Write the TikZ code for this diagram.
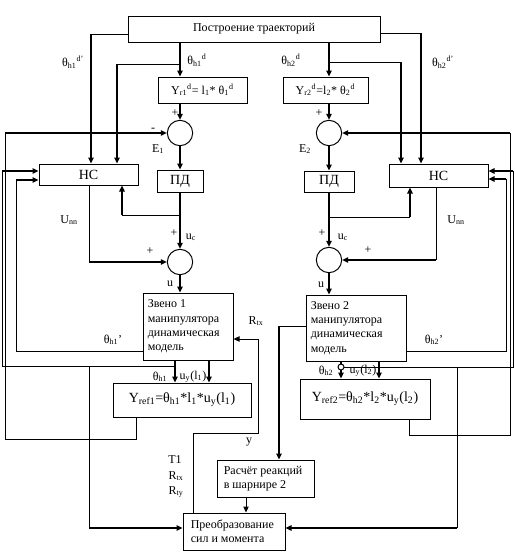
\documentclass[tikz,border=0pt]{standalone}
\usepackage{fontspec}
\setmainfont{Liberation Serif}
\usetikzlibrary{arrows.meta,calc}
\newcommand{\sbx}[1]{\textsubscript{#1}}
\newcommand{\spx}[1]{\textsuperscript{#1}}
\begin{document}
\begin{tikzpicture}[x=0.75pt,y=-0.75pt,
  box/.style={draw,line width=0.75pt,inner sep=0pt,font=\fontsize{9}{10.7}\selectfont},
  bigtext/.style={font=\fontsize{10.5}{12}\selectfont},
  sumc/.style={draw,circle,line width=0.75pt,minimum size=19pt,inner sep=0pt},
  lbl/.style={inner sep=0pt,font=\fontsize{9}{10.7}\selectfont},
  wire/.style={line width=0.75pt},
  bus/.style={line width=1.7pt},
  arr/.style={-{Triangle[length=4.5pt,width=4pt]}}
]
\useasboundingbox (0,0) rectangle (514,553);

% ---------- blocks ----------
\node[box,minimum width=189pt,minimum height=19.5pt] (top) at (254,29) {Построение траекторий};
\node[box,minimum width=66.75pt,minimum height=19.5pt] (yr1) at (202.5,90) {Y\sbx{r1}\spx{d}= l\sbx{1}* θ\sbx{1}\spx{d}};
\node[box,minimum width=63.75pt,minimum height=19.5pt] (yr2) at (325.5,90) {Y\sbx{r2}\spx{d}=l\sbx{2}* θ\sbx{2}\spx{d}};
\node[sumc] (c1) at (180,133) {};
\node[sumc] (c3) at (329,133) {};
\node[box,bigtext,minimum width=74.25pt,minimum height=15.75pt] (nc1) at (88.5,174.5) {НС};
\node[box,bigtext,minimum width=74.25pt,minimum height=17.25pt] (nc2) at (438.5,175.5) {НС};
\node[box,bigtext,minimum width=34.5pt,minimum height=16.5pt] (pd1) at (180,181) {ПД};
\node[box,bigtext,minimum width=37.5pt,minimum height=15.75pt] (pd2) at (329,181.5) {ПД};
\node[sumc] (c2) at (180,262) {};
\node[sumc] (c4) at (329,260) {};
\node[box,minimum width=67.5pt,minimum height=50.25pt] (z1) at (188,326.5) {};
\node[lbl,align=left,anchor=west] (z1t) at ($(z1.west)+(5,0)$) {Звено 1\\манипулятора\\динамическая\\модель};
\node[box,minimum width=75pt,minimum height=49.5pt] (z2) at (356,328) {};
\node[lbl,align=left,anchor=west] (z2t) at ($(z2.west)+(5,0)$) {Звено 2\\манипулятора\\динамическая\\модель};
\node[box,bigtext,minimum width=103.5pt,minimum height=25.5pt] (yref1) at (182,400) {Y\sbx{ref1}=θ\sbx{h1}*l\sbx{1}*u\sbx{y}(l\sbx{1})};
\node[box,bigtext,minimum width=97.5pt,minimum height=30pt] (yref2) at (365,399) {Y\sbx{ref2}=θ\sbx{h2}*l\sbx{2}*u\sbx{y}(l\sbx{2})};
\node[box,minimum width=72.75pt,minimum height=27.75pt] (ras) at (265.5,478.5) {};
\node[lbl,align=left,anchor=west] (rast) at ($(ras.west)+(7,0)$) {Расчёт реакций\\в шарнире 2};
\node[box,minimum width=76.5pt,minimum height=27.75pt] (pr) at (234,531.5) {};
\node[lbl,align=left,anchor=west] (prt) at ($(pr.west)+(8,0)$) {Преобразование\\сил и момента};

% ---------- bend points ----------
\coordinate (a1) at (91,34);
\coordinate (b1) at (180,64);
\coordinate (b1l) at (117,64);
\coordinate (uc1) at (180,215);
\coordinate (uc1l) at (122,215);
\coordinate (un1) at (89,262);
\coordinate (t1) at (175,366);
\coordinate (uy1) at (209,366);
\coordinate (L2a) at (2,366);
\coordinate (L2b) at (2,171);
\coordinate (L3a) at (16,351);
\coordinate (L3b) at (16,180);
\coordinate (f1a) at (136,439);
\coordinate (f1b) at (5,439);
\coordinate (f1c) at (5,133);
\coordinate (p1a) at (89,366);
\coordinate (p1b) at (89,528);
\coordinate (r1) at (193,433);
\coordinate (r2) at (258,433);
\coordinate (r3) at (258,339);
\coordinate (q1) at (279,326);
\coordinate (q2) at (246,505);
\coordinate (a2) at (421,33);
\coordinate (b2) at (329,62);
\coordinate (b2r) at (401,62);
\coordinate (uc2) at (329,217);
\coordinate (uc2r) at (410,217);
\coordinate (un2) at (436,260);
\coordinate (t2) at (341,367);
\coordinate (uy2) at (379,367);
\coordinate (R2a) at (513,367);
\coordinate (R2b) at (513,171);
\coordinate (R3a) at (506,351);
\coordinate (R3b) at (506,179);
\coordinate (f2a) at (409,435);
\coordinate (f2b) at (510,435);
\coordinate (f2c) at (510,133);
\coordinate (p2a) at (457,367);
\coordinate (p2b) at (457,528);

% ---------- left half ----------
\draw[wire] (top.west |- a1) -- (a1);
\draw[bus,arr] (a1) -- (a1 |- nc1.north);
\draw[bus,arr] (top.south -| c1) -- (c1 |- yr1.north);
\draw[wire] (b1) -- (b1l);
\draw[bus,arr] (b1l) -- (b1l |- nc1.north);
\draw[bus,arr] (c1 |- yr1.south) -- (c1.north);
\draw[bus,arr] (c1.south) -- (pd1.north);
\draw[bus,arr] (pd1.south) -- (c2.north);
\draw[wire] (uc1) -- (uc1l);
\draw[bus,arr] (uc1l) -- (uc1l |- nc1.south);
\draw[wire] (nc1.south -| un1) -- (un1);
\draw[bus,arr] (un1) -- (c2.west);
\draw[bus,arr] (c2.south) -- (c2.south |- z1.north);
\draw[bus,arr] (z1.south -| t1) -- (t1 |- yref1.north);
\draw[bus,arr] (z1.south -| uy1) -- (uy1 |- yref1.north);
\draw[wire] (t1) -- (L2a) -- (L2b);
\draw[bus,arr] (L2b) -- (L2b -| nc1.west);
\draw[wire] (z1.west |- L3a) -- (L3a) -- (L3b);
\draw[bus,arr] (L3b) -- (L3b -| nc1.west);
\draw[wire] (yref1.south -| f1a) -- (f1a) -- (f1b) -- (f1c);
\draw[bus,arr] (f1c) -- (c1.west);
\draw[wire] (p1a) -- (p1b);
\draw[bus,arr] (p1b) -- (p1b -| pr.west);
\draw[wire] (pr.north -| r1) -- (r1) -- (r2) -- (r3);
\draw[wire,arr] (r3) -- (r3 -| z1.east);
\draw[wire] (z2.west |- q1) -- (q1);
\draw[bus,arr] (q1) -- (q1 |- ras.north);
\draw[wire,arr] (ras.south -| q2) -- (q2 |- pr.north);

% ---------- right half ----------
\draw[wire] (top.east |- a2) -- (a2);
\draw[bus,arr] (a2) -- (a2 |- nc2.north);
\draw[bus,arr] (top.south -| c3) -- (c3 |- yr2.north);
\draw[wire] (b2) -- (b2r);
\draw[bus,arr] (b2r) -- (b2r |- nc2.north);
\draw[bus,arr] (c3 |- yr2.south) -- (c3.north);
\draw[bus,arr] (c3.south) -- (pd2.north);
\draw[bus,arr] (pd2.south) -- (c4.north);
\draw[wire] (uc2) -- (uc2r);
\draw[bus,arr] (uc2r) -- (uc2r |- nc2.south);
\draw[wire] (nc2.south -| un2) -- (un2);
\draw[bus,arr] (un2) -- (c4.east);
\draw[bus,arr] (c4.south) -- (c4.south |- z2.north);
\draw[bus,arr] (z2.south -| t2) -- (t2 |- yref2.north);
\draw[bus,arr] (z2.south -| uy2) -- (uy2 |- yref2.north);
\draw[wire] (t2) -- (R2a) -- (R2b);
\draw[bus,arr] (R2b) -- (R2b -| nc2.east);
\draw[wire] (z2.east |- R3a) -- (R3a) -- (R3b);
\draw[bus,arr] (R3b) -- (R3b -| nc2.east);
\draw[wire] (yref2.south -| f2a) -- (f2a) -- (f2b) -- (f2c);
\draw[bus,arr] (f2c) -- (c3.east);
\draw[wire] (p2a) -- (p2b);
\draw[bus,arr] (p2b) -- (p2b -| pr.east);
\node[draw,circle,line width=0.75pt,inner sep=0pt,minimum size=4.5pt,fill=white] (jn) at (t2) {};

% ---------- labels ----------
\node[lbl] (l1) at (73,62) {θ\sbx{h1}\spx{d’}};
\node[lbl] (l2) at (197,60) {θ\sbx{h1}\spx{d}};
\node[lbl] (l3) at (175,113) {+};
\node[lbl] (l4) at (153,130) {-};
\node[lbl] (l5) at (158,149) {E\sbx{1}};
\node[lbl] (l6) at (174,233) {+};
\node[lbl] (l7) at (191,237) {u\sbx{c}};
\node[lbl] (l8) at (69,220) {U\sbx{nn}};
\node[lbl] (l9) at (150,251) {+};
\node[lbl] (l10) at (170,284) {u};
\node[lbl] (l11) at (113,340) {θ\sbx{h1}’};
\node[lbl] (l12) at (256,321) {R\sbx{tx}};
\node[lbl] (l13) at (160,377) {θ\sbx{h1}};
\node[lbl] (l14) at (193,377) {u\sbx{y}(l\sbx{1})};
\node[lbl] (l15) at (175,460) {T1};
\node[lbl] (l16) at (176,476) {R\sbx{tx}};
\node[lbl] (l17) at (176,492) {R\sbx{ty}};
\node[lbl] (l18) at (249,442) {y};
\node[lbl] (m1) at (291,60) {θ\sbx{h2}\spx{d}};
\node[lbl] (m2) at (443,62) {θ\sbx{h2}\spx{d’}};
\node[lbl] (m3) at (319,113) {+};
\node[lbl] (m5) at (305,149) {E\sbx{2}};
\node[lbl] (m6) at (322,233) {+};
\node[lbl] (m7) at (343,237) {u\sbx{c}};
\node[lbl] (m8) at (456,220) {U\sbx{nn}};
\node[lbl] (m9) at (368,250) {+};
\node[lbl] (m10) at (321,285) {u};
\node[lbl] (m11) at (434,340) {θ\sbx{h2}’};
\node[lbl] (m13) at (326,371) {θ\sbx{h2}};
\node[lbl] (m14) at (363,371) {u\sbx{y}(l\sbx{2})};
\end{tikzpicture}
\end{document}
